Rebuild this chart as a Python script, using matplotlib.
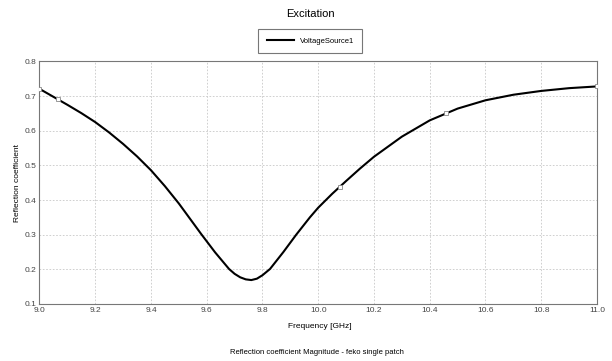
import matplotlib
matplotlib.use("Agg")
import matplotlib.pyplot as plt

plt.rcParams['font.family'] = ['Liberation Sans Narrow', 'Liberation Sans', 'DejaVu Sans']

# values
freq = [9.0, 9.05, 9.1, 9.15, 9.2, 9.25, 9.3, 9.35, 9.4, 9.45, 9.5, 9.54, 9.58, 9.63,
        9.68, 9.70, 9.72, 9.74, 9.76, 9.78, 9.80, 9.827, 9.875, 9.921, 9.97, 10.0,
        10.05, 10.1, 10.15, 10.2, 10.3, 10.4, 10.5, 10.6, 10.7, 10.8, 10.9, 11.0]
refl = [0.721, 0.698, 0.675, 0.651, 0.625, 0.595, 0.562, 0.526, 0.486, 0.440, 0.390,
        0.346, 0.302, 0.249, 0.201, 0.187, 0.177, 0.171, 0.169, 0.173, 0.183, 0.201,
        0.250, 0.300, 0.350, 0.378, 0.418, 0.455, 0.491, 0.525, 0.583, 0.630, 0.664,
        0.688, 0.704, 0.715, 0.723, 0.728]
mark_f = [9.0, 9.065, 10.078, 10.46, 11.0]
mark_r = [0.721, 0.692, 0.439, 0.652, 0.728]

fig = plt.figure(figsize=(6.12, 3.61), dpi=100)
ax = fig.add_axes([0.0645, 0.158, 0.911, 0.6717])
ax.plot(freq, refl, color='black', lw=1.5, label='VoltageSource1', zorder=3,
        solid_joinstyle='round')
ax.plot(mark_f, mark_r, ls='none', marker='s', ms=2.5, mfc='white', mec='#888888',
        mew=0.6, zorder=4)
ax.set_xlim(9.0, 11.0)
ax.set_ylim(0.1, 0.8)
ax.set_xticks([9.0 + 0.2 * i for i in range(11)])
ax.set_yticks([0.1 * i for i in range(1, 9)])
ax.grid(True, color='#c8c8c8', ls=(0, (2, 2)), lw=0.6)
ax.tick_params(labelsize=6, length=0, pad=2, colors='#444444')
for s in ax.spines.values():
    s.set_color('#777777')
    s.set_linewidth(0.8)

ax.set_xlabel('Frequency [GHz]', fontsize=6)
ax.xaxis.label.set_va('center')
ax.xaxis.set_label_coords(0.502, -0.095)
ax.set_ylabel('Reflection coefficient', fontsize=6)
ax.yaxis.label.set_va('center')
ax.yaxis.set_label_coords(-0.0386, 0.5)

fig.text(310 / 612, 1 - 14 / 361, 'Excitation', ha='center', va='center', fontsize=8)
fig.text(317 / 612, 1 - 352 / 361, 'Reflection coefficient Magnitude - feko single patch',
         ha='center', va='center', fontsize=5.5)
leg = ax.legend(loc='center', bbox_to_anchor=(0.486, 1.084), fontsize=5.5, frameon=True,
                fancybox=False, edgecolor='#555555', handlelength=3.5, borderpad=1.1,
                borderaxespad=0)
leg.get_frame().set_linewidth(0.8)
fig.savefig('out.png', dpi=100)
